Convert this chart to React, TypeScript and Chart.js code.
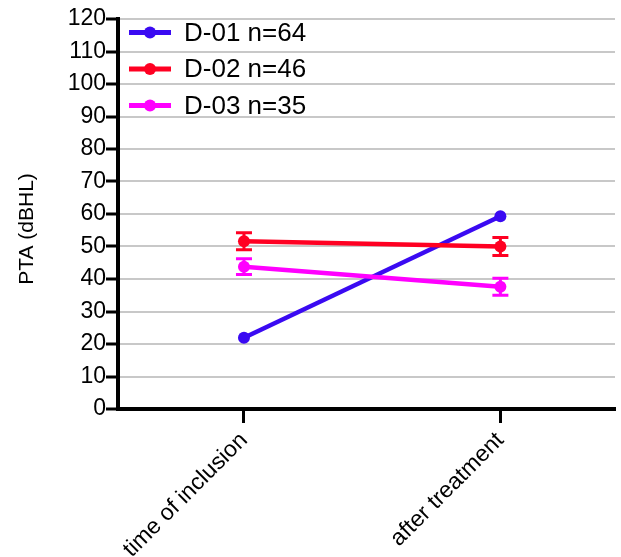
import React, { useEffect, useRef } from 'react';
import { Chart, registerables } from 'chart.js';

Chart.register(...registerables);

const categories = ['time of inclusion', 'after treatment'];
const categoryPositions = [1, 2];
const seriesLabels = ['D-01 n=64', 'D-02 n=46', 'D-03 n=35'];
const valuesD01 = [21.9, 59.3];
const valuesD02 = [51.6, 50.0];
const valuesD03 = [43.8, 37.6];
const errorsD01 = [0, 0];
const errorsD02 = [2.6, 2.8];
const errorsD03 = [2.4, 2.6];
const yMin = 0;
const yMax = 120;
const yStep = 10;
const yTitle = 'PTA (dBHL)';

const COLORS = ['#3a0af2', '#ff0022', '#ff00ff'];
const FONT = "'Liberation Sans', Arial, Helvetica, sans-serif";

const errorBarPlugin = {
  id: 'errorBars',
  afterDatasetsDraw(chart: any) {
    const { ctx } = chart;
    const xs = chart.scales.x;
    const ys = chart.scales.y;
    chart.data.datasets.forEach((ds: any) => {
      const errs: number[] = ds.errors || [];
      ds.data.forEach((pt: any, j: number) => {
        const e = errs[j];
        if (!e) return;
        const px = xs.getPixelForValue(pt.x);
        const top = ys.getPixelForValue(pt.y + e);
        const bot = ys.getPixelForValue(pt.y - e);
        ctx.save();
        ctx.strokeStyle = ds.borderColor;
        ctx.lineWidth = 3;
        ctx.beginPath();
        ctx.moveTo(px, top);
        ctx.lineTo(px, bot);
        ctx.moveTo(px - 8, top);
        ctx.lineTo(px + 8, top);
        ctx.moveTo(px - 8, bot);
        ctx.lineTo(px + 8, bot);
        ctx.stroke();
        ctx.restore();
      });
    });
  },
};

const insideLegendPlugin = {
  id: 'insideLegend',
  afterDraw(chart: any) {
    const { ctx, chartArea } = chart;
    chart.data.datasets.forEach((ds: any, i: number) => {
      const yc = chartArea.top + 13.5 + i * 36.5;
      const x0 = chartArea.left + 11;
      ctx.save();
      ctx.strokeStyle = ds.borderColor;
      ctx.fillStyle = ds.borderColor;
      ctx.lineWidth = 5;
      ctx.beginPath();
      ctx.moveTo(x0, yc);
      ctx.lineTo(x0 + 42, yc);
      ctx.stroke();
      ctx.beginPath();
      ctx.arc(x0 + 21, yc, 6, 0, Math.PI * 2);
      ctx.fill();
      ctx.fillStyle = '#000';
      ctx.font = `26px ${FONT}`;
      ctx.textBaseline = 'middle';
      ctx.textAlign = 'left';
      ctx.fillText(ds.label, x0 + 55, yc + 1);
      ctx.restore();
    });
  },
};

const yTitlePlugin = {
  id: 'yTitleDraw',
  afterDraw(chart: any) {
    const { ctx, chartArea } = chart;
    ctx.save();
    ctx.translate(chartArea.left - 91, (chartArea.top + chartArea.bottom) / 2 + 15);
    ctx.rotate(-Math.PI / 2);
    ctx.fillStyle = '#000';
    ctx.font = `21px ${FONT}`;
    ctx.textAlign = 'center';
    ctx.textBaseline = 'middle';
    ctx.fillText(yTitle, 0, 0);
    ctx.restore();
  },
};

export default function App() {
  const canvasRef = useRef<HTMLCanvasElement | null>(null);

  useEffect(() => {
    if (!canvasRef.current) return;
    const seriesValues = [valuesD01, valuesD02, valuesD03];
    const seriesErrors = [errorsD01, errorsD02, errorsD03];
    const orders = [3, 1, 2];
    const datasets: any[] = seriesLabels.map((label, i) => ({
      label,
      data: seriesValues[i].map((v, j) => ({ x: categoryPositions[j], y: v })),
      errors: seriesErrors[i],
      borderColor: COLORS[i],
      backgroundColor: COLORS[i],
      pointBackgroundColor: COLORS[i],
      pointBorderColor: COLORS[i],
      borderWidth: 4.5,
      pointRadius: 6,
      pointBorderWidth: 0,
      tension: 0,
      order: orders[i],
    }));

    const chart = new Chart(canvasRef.current, {
      type: 'line',
      data: { datasets },
      plugins: [errorBarPlugin, insideLegendPlugin, yTitlePlugin],
      options: {
        animation: false,
        responsive: false,
        layout: { padding: { top: 19, right: 0, left: 0, bottom: 0 } },
        plugins: {
          legend: { display: false },
          tooltip: { enabled: false },
        },
        scales: {
          x: {
            type: 'linear',
            min: 0.5087,
            max: 2.447,
            afterBuildTicks: (scale: any) => {
              scale.ticks = categoryPositions.map((v) => ({ value: v }));
            },
            afterFit: (scale: any) => {
              scale.height = 148;
            },
            ticks: {
              autoSkip: false,
              maxRotation: 45,
              minRotation: 45,
              padding: 4,
              color: '#000',
              font: { family: FONT, size: 23 },
              callback: (v: any) => {
                const idx = categoryPositions.indexOf(Number(v));
                return idx >= 0 ? categories[idx] : '';
              },
            },
            grid: {
              drawOnChartArea: false,
              drawTicks: true,
              tickLength: 14,
              tickColor: '#000',
              tickWidth: 3,
            },
            border: { color: '#000', width: 4 },
          },
          y: {
            min: yMin,
            max: yMax,
            afterFit: (scale: any) => {
              scale.width = 118;
            },
            ticks: {
              stepSize: yStep,
              padding: 0,
              color: '#000',
              font: { family: FONT, size: 23 },
            },
            grid: {
              color: '#c8c8c8',
              lineWidth: 2,
              tickColor: '#000',
              tickWidth: 3,
              tickLength: 12,
            },
            border: { color: '#000', width: 4 },
            title: { display: false },
          },
        },
      } as any,
    });
    return () => chart.destroy();
  }, []);

  return (
    <div style={{ position: 'absolute', left: 0, top: 0, width: 621, height: 557, background: '#fff' }}>
      <canvas ref={canvasRef} width={621} height={557} />
    </div>
  );
}
